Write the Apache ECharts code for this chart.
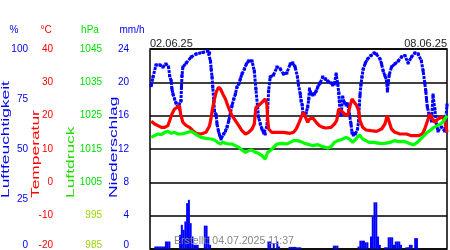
<!DOCTYPE html>
<html>
<head>
<meta charset="utf-8">
<script src="https://cdn.jsdelivr.net/npm/echarts@6/dist/echarts.min.js"></script>
<style>
  html, body { margin: 0; padding: 0; background: #fff; }
  #chart { width: 450px; height: 250px; }
</style>
</head>
<body>
<div id="chart"></div>
<script>
// x = Stunden ab 02.06.25 00:00
let dateLabels = ["02.06.25", "08.06.25"];
let createdText = "Erstellt: 04.07.2025 11:37";
let titles = ["Luftfeuchtigkeit", "Temperatur", "Luftdruck", "Niederschlag"];
let units = ["%", "°C", "hPa", "mm/h"];

// Luftfeuchtigkeit %
let humidity = [
  [0.7, 81.7], [1.7, 86], [3.4, 92], [5.6, 92], [7.3, 91], [9.0, 92.5], [10.5, 91], [11.1, 86.7],
  [12.0, 84], [12.4, 80], [13.0, 77.5], [13.9, 75], [14.7, 73], [15.8, 71], [16.7, 70], [17.5, 74],
  [17.8, 81], [18.1, 86.7], [18.6, 91], [20.5, 93], [23.3, 96], [26.1, 97.5], [29.9, 98.3], [32.7, 99],
  [33.7, 98], [34.2, 94], [34.6, 90], [35.1, 86], [35.5, 81], [36.1, 74], [36.5, 69], [37.4, 67],
  [37.9, 62.5], [38.7, 59], [39.3, 57], [40.2, 55], [41.7, 57.5], [42.7, 59], [43.6, 61], [44.5, 64],
  [45.5, 68], [46.4, 71.7], [47.4, 75], [48.3, 77.5], [49.2, 81], [50.2, 82.5], [51.1, 85], [52.0, 87.5],
  [53.4, 90], [54.5, 92.5], [55.8, 94], [57.7, 94], [59.0, 89], [59.9, 80], [61.4, 66], [62.4, 62.5],
  [63.3, 60], [64.3, 58], [65.2, 57.5], [66.1, 61], [67.1, 79], [68.0, 86], [69.9, 87], [71.8, 91],
  [73.7, 90], [75.5, 87.5], [77.4, 88], [79.3, 92.5], [80.8, 93], [82.1, 91], [83.4, 86], [84.0, 82],
  [85.0, 77.5], [85.5, 74], [86.1, 72], [86.5, 67.5], [87.4, 67], [88.3, 68], [89.2, 71], [89.8, 75],
  [90.2, 80], [91.2, 77.5], [92.1, 77], [93.0, 77.5], [94.0, 79], [94.9, 81], [96.2, 83], [97.7, 86],
  [99.2, 85], [100.5, 84], [102.4, 83], [103.3, 82], [104.3, 82.5], [105.3, 87.5], [106.2, 82.5], [106.8, 78],
  [107.1, 74], [107.5, 69], [108.1, 67], [109.0, 76], [110.0, 73], [110.9, 72], [111.8, 72.5], [112.8, 67.5],
  [113.7, 62.5], [114.3, 58], [115.0, 57], [116.1, 57.5], [117.4, 60], [118.0, 64], [118.4, 72], [118.8, 77],
  [119.3, 82], [119.9, 86], [120.6, 90], [121.8, 93], [123.1, 95], [125.0, 96.7], [126.8, 98], [128.1, 97.5],
  [130.1, 95], [131.0, 92.5], [131.9, 89], [132.9, 86.7], [133.8, 84], [134.3, 79], [135.3, 87], [136.6, 91],
  [138.5, 92.5], [140.4, 94], [142.2, 96], [144.2, 96.7], [146.0, 93], [147.9, 96], [149.8, 98], [151.7, 97.5],
  [153.5, 94], [154.5, 89], [155.4, 83], [156.0, 79], [156.4, 75], [156.9, 71], [157.9, 67], [159.2, 64],
  [160.1, 77], [161.1, 70], [162.0, 62.5], [162.9, 59], [164.8, 61], [166.7, 59], [168.0, 72],
];

// Temperatur °C
let temperature = [
  [0.7, 18.3], [2.6, 17.5], [4.5, 17], [6.4, 16.5], [8.3, 16.5], [10.1, 17], [11.1, 18.5], [12.4, 20.5],
  [13.9, 22], [15.4, 22.5], [16.7, 23], [17.3, 20.5], [18.6, 18], [20.5, 17], [22.4, 16.5], [24.2, 15.5],
  [26.1, 14.7], [28.9, 14.5], [31.7, 15], [33.7, 17], [34.6, 19.5], [35.5, 22.5], [36.5, 25], [37.4, 27],
  [38.7, 28.5], [39.9, 28], [41.2, 26.5], [42.7, 25], [44.0, 23], [45.1, 21.5], [46.4, 20], [48.3, 18.5],
  [50.2, 17], [52.0, 15.5], [54.0, 14.5], [55.8, 15], [57.7, 16], [59.0, 17.5], [59.9, 22.5], [61.4, 23],
  [63.3, 24], [65.2, 25], [66.1, 23.5], [66.5, 19.5], [67.1, 16], [68.9, 15], [71.8, 15], [75.5, 15],
  [79.3, 14.7], [81.2, 15], [82.7, 16], [84.0, 17.5], [85.5, 19.5], [86.8, 21], [87.9, 20.5], [89.2, 18],
  [90.2, 19], [92.1, 19.3], [94.0, 18], [95.8, 17], [97.7, 16.5], [99.6, 16.3], [102.4, 16.5], [104.3, 17.5],
  [105.6, 18.5], [106.7, 22], [108.1, 21.5], [110.0, 20.5], [111.8, 20], [113.2, 23], [114.3, 25], [115.6, 24],
  [116.9, 23], [118.0, 21.5], [118.8, 18.5], [120.3, 16.5], [122.2, 15.7], [125.0, 15.5], [128.1, 15.3], [129.1, 15],
  [131.0, 16], [132.9, 17.5], [134.2, 20], [135.1, 18.5], [136.6, 16], [138.5, 15], [141.4, 14.5], [145.1, 14.5],
  [147.9, 14], [151.7, 14], [154.1, 14.5], [155.4, 16], [156.7, 18], [158.3, 20.5], [159.2, 19.5], [161.1, 18],
  [162.9, 19], [164.8, 19.5], [166.7, 19], [168.0, 15],
];

// Luftdruck hPa
let pressure = [
  [0.7, 1018.5], [2.6, 1019], [4.5, 1019.5], [6.4, 1019.3], [8.3, 1020], [10.1, 1020.3], [12.0, 1019.7], [13.9, 1020],
  [15.8, 1019.5], [17.6, 1019.5], [19.5, 1019.7], [21.4, 1020], [23.3, 1020.3], [25.2, 1019.7], [27.1, 1019], [28.9, 1018.5],
  [31.7, 1018.2], [34.6, 1018], [36.5, 1017.7], [38.3, 1017], [39.9, 1016.5], [41.2, 1017], [42.7, 1016.7], [44.5, 1016.5],
  [46.4, 1016.5], [48.3, 1016], [50.2, 1015.5], [52.0, 1014.7], [54.0, 1014], [55.8, 1014.5], [57.7, 1014.7], [59.6, 1014],
  [61.4, 1013.7], [63.3, 1013], [65.2, 1012], [66.5, 1014], [68.0, 1014.5], [69.9, 1015.5], [71.8, 1016.5], [74.6, 1016.7],
  [77.4, 1016.5], [79.3, 1017], [81.2, 1017.5], [83.0, 1017.5], [85.0, 1017.3], [87.4, 1016.7], [90.2, 1016.3], [92.1, 1016],
  [94.9, 1016.3], [97.7, 1015.7], [100.5, 1015.3], [102.4, 1015.7], [104.3, 1017], [106.2, 1017.5], [109.0, 1018], [110.9, 1018.5],
  [112.8, 1018], [114.6, 1017], [116.5, 1018], [118.4, 1019.3], [120.3, 1018], [122.2, 1017.5], [124.0, 1017], [126.8, 1017],
  [129.7, 1016.7], [132.5, 1016.7], [135.3, 1016.9], [138.1, 1017.5], [140.9, 1017.2], [143.7, 1017.3], [146.5, 1016.7], [149.0, 1016.2],
  [151.2, 1017], [153.1, 1018], [155.0, 1019], [156.8, 1020], [158.8, 1020.7], [160.6, 1021.5], [162.5, 1022], [164.4, 1022.5],
  [166.2, 1023.5], [168.0, 1025],
];

// Niederschlag mm/h
let rain = [
  [3, 0.3], [4, 0.3], [5, 0.3], [6, 0.3], [7, 0.3], [8, 0.3], [9, 0.9], [10, 0.9], [11, 0.9],
  [17, 1.7], [18, 2.9], [19, 2.3], [20, 3.3], [21, 5.5], [22, 5.9], [23, 3.1], [24, 1.5], [25, 0.5],
  [26, 0.5], [27, 0.5], [31, 2.8], [32, 2.8], [33, 1.5], [34, 0.5], [67, 0.9], [68, 0.9], [70, 0.7],
  [72, 0.9], [73, 0.3], [79, 0.25], [80, 0.25], [81, 0.25], [82, 0.25], [83, 0.2], [84, 0.2], [85, 0.2],
  [104, 0.4], [105, 0.4], [106, 0.4], [118, 0.3], [119, 1.0], [120, 1.0], [121, 1.0], [122, 0.8], [123, 0.8],
  [125, 1.5], [126, 3.9], [127, 5.6], [128, 5.6], [129, 1.5], [130, 0.5], [133, 0.2], [134, 0.2], [135, 1.4],
  [136, 1.4], [137, 1.4], [138, 0.5], [139, 0.9], [140, 0.9], [141, 0.9], [142, 0.5], [145, 0.2], [146, 0.2],
  [147, 0.5], [148, 0.5], [150, 1.3], [151, 1.3], [152, 0.1],
];

const FONT = "Liberation Sans";
const BLUE = "#0000ff";
const RED = "#ff0000";
const GREEN = "#00ff00";
const LBLUE = "#0000ee";
const LGREEN = "#00e000";

// unterstes Label etwas anheben, sonst wird es abgeschnitten
function lowLabel(min, color) {
  return {
    margin: 0,
    fontFamily: FONT,
    fontSize: 10,
    color: color,
    formatter: function (v) {
      return v === min ? "{low|" + v + "}" : String(v);
    },
    rich: {
      low: { fontFamily: FONT, fontSize: 10, color: color, padding: [0, 0, 8, 0] },
    },
  };
}

function leftAxis(min, max, interval, offset, label) {
  return {
    type: "value",
    position: "left",
    min: min,
    max: max,
    interval: interval,
    offset: offset,
    axisLine: { show: false },
    axisTick: { show: false },
    splitLine: { show: false },
    axisLabel: label,
  };
}

let pressureLabel = lowLabel(985, LGREEN);
pressureLabel.formatter = function (v) {
  if (v === 985) return "{lowy|" + v + "}";
  if (v < 1000) return "{y|" + v + "}";
  return String(v);
};
pressureLabel.rich = {
  y: { fontFamily: FONT, fontSize: 10, color: "#99d600" },
  lowy: { fontFamily: FONT, fontSize: 10, color: "#99d600", padding: [0, 0, 8, 0] },
};

let tempAxis = leftAxis(-20, 40, 10, 97, lowLabel(-20, RED));
tempAxis.splitLine = { show: true, lineStyle: { color: "#000", width: 1.5 } };

let titleX = [6, 36, 71, 113.5];
let titleColor = [LBLUE, RED, "#22dd00", LBLUE];
let unitX = [14, 46, 90, 132];
let unitColor = [LBLUE, RED, LGREEN, LBLUE];

let chart = echarts.init(document.getElementById("chart"), null, { renderer: "canvas" });

let graphics = [];
titles.forEach(function (t, i) {
  graphics.push({
    type: "text",
    x: titleX[i],
    y: 198,
    rotation: Math.PI / 2,
    scaleX: 1.58,
    style: {
      text: t,
      fill: titleColor[i],
      font: "11px '" + FONT + "'",
      align: "left",
      verticalAlign: "middle",
    },
  });
});
units.forEach(function (u, i) {
  graphics.push({
    type: "text",
    x: unitX[i],
    y: 30,
    style: {
      text: u,
      fill: unitColor[i],
      font: "10px '" + FONT + "'",
      align: "center",
      verticalAlign: "middle",
    },
  });
});
graphics.push({
  type: "text",
  x: 174,
  y: 241,
  z: 100,
  style: {
    text: createdText,
    fill: "#888",
    font: "10.6px '" + FONT + "'",
    align: "left",
    verticalAlign: "middle",
  },
});

chart.setOption({
  animation: false,
  backgroundColor: "#fff",
  grid: {
    left: 150,
    right: 2,
    top: 49,
    bottom: 1,
    show: true,
    borderColor: "#000",
    borderWidth: 1.5,
    backgroundColor: "transparent",
  },
  xAxis: {
    type: "value",
    position: "top",
    min: 0,
    max: 168,
    interval: 168,
    axisLine: { show: false },
    axisTick: { show: false },
    splitLine: { show: false },
    axisLabel: {
      margin: 0,
      fontFamily: FONT,
      fontSize: 11,
      color: "#222",
      alignMinLabel: "left",
      alignMaxLabel: "right",
      formatter: function (v) {
        return v === 0 ? dateLabels[0] : dateLabels[1];
      },
    },
  },
  yAxis: [
    leftAxis(0, 100, 25, 122, lowLabel(0, LBLUE)),
    tempAxis,
    leftAxis(985, 1045, 10, 48, pressureLabel),
    leftAxis(0, 24, 4, 21, lowLabel(0, LBLUE)),
  ],
  series: [
    {
      name: titles[0],
      type: "line",
      yAxisIndex: 0,
      data: humidity,
      symbol: "rect",
      symbolSize: 3,
      showSymbol: true,
      itemStyle: { color: BLUE },
      lineStyle: { color: BLUE, width: 3, type: [3, 1] },
      z: 2,
    },
    {
      name: titles[1],
      type: "line",
      yAxisIndex: 1,
      data: temperature,
      showSymbol: false,
      lineStyle: { color: RED, width: 3.2 },
      z: 3,
    },
    {
      name: titles[2],
      type: "line",
      yAxisIndex: 2,
      data: pressure,
      showSymbol: false,
      lineStyle: { color: GREEN, width: 3.2 },
      z: 4,
    },
    {
      name: titles[3],
      type: "bar",
      yAxisIndex: 3,
      data: rain,
      barWidth: 2,
      itemStyle: { color: BLUE },
      z: 5,
    },
  ],
  graphic: graphics,
});
</script>
</body>
</html>
